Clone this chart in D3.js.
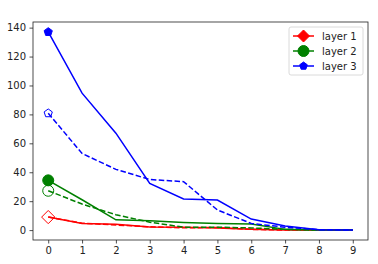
<!DOCTYPE html>
<html>
<head>
<meta charset="utf-8">
<script src="https://cdn.jsdelivr.net/npm/d3@7"></script>
<style>
  body { margin: 0; background: #fff; }
  svg { display: block; font-family: "DejaVu Sans", sans-serif; }
</style>
</head>
<body>
<script>
var width = 378,
  height = 264;

var margin = { top: 22, right: 10, bottom: 24, left: 33 };

// data
var xValues = [0, 1, 2, 3, 4, 5, 6, 7, 8, 9];
var layerNames = ["layer 1", "layer 2", "layer 3"];
var layerColors = ["#ff0000", "#008000", "#0000ff"];
var layer1Solid = [9, 4.6, 4, 2.2, 2, 1.5, 0.6, 0, 0, 0];
var layer1Dashed = [9, 4.8, 3.5, 2.3, 1.6, 1.8, 0.5, 0, 0, 0];
var layer2Solid = [34.4, 21, 7.1, 6.5, 5.3, 4.6, 4.2, 0.5, 0, 0];
var layer2Dashed = [27.2, 18, 10.6, 5.5, 2, 2, 1.5, 0.5, 0, 0];
var layer3Solid = [137, 94.7, 67, 32.3, 21.5, 20.8, 7.6, 2.8, 0.3, 0];
var layer3Dashed = [80.8, 53, 42, 35, 33.5, 13.9, 4.6, 2, 0.3, 0];
var yTicks = [0, 20, 40, 60, 80, 100, 120, 140];

var series = [
  { values: layer1Solid, color: layerColors[0], dashed: false, marker: "diamond" },
  { values: layer1Dashed, color: layerColors[0], dashed: true, marker: "diamond" },
  { values: layer2Solid, color: layerColors[1], dashed: false, marker: "circle" },
  { values: layer2Dashed, color: layerColors[1], dashed: true, marker: "circle" },
  { values: layer3Solid, color: layerColors[2], dashed: false, marker: "pentagon" },
  { values: layer3Dashed, color: layerColors[2], dashed: true, marker: "pentagon" }
];

var svg = d3.select("body")
  .append("svg")
  .attr("width", width)
  .attr("height", height);

var x = d3.scaleLinear()
  .domain([-0.45, 9.45])
  .range([margin.left, width - margin.right]);

var y = d3.scaleLinear()
  .domain([-6.85, 143.9])
  .range([height - margin.bottom, margin.top]);

// marker shapes
function markerPath(kind, r) {
  if (kind === "diamond") {
    return "M0," + -r + "L" + r + ",0L0," + r + "L" + -r + ",0Z";
  }
  if (kind === "circle") {
    return "M" + r + ",0A" + r + "," + r + " 0 1,1 " + -r + ",0A" + r + "," + r + " 0 1,1 " + r + ",0Z";
  }
  var pts = d3.range(5).map(function (i) {
    var a = -Math.PI / 2 + i * 2 * Math.PI / 5;
    return [r * Math.cos(a), r * Math.sin(a)];
  });
  return "M" + pts.map(function (p) { return p.join(","); }).join("L") + "Z";
}
var markerSize = { diamond: 6.6, circle: 5.5, pentagon: 4.3 };

var line = d3.line()
  .x(function (d, i) { return x(xValues[i]); })
  .y(function (d) { return y(d); });

var g = svg.append("g");

series.forEach(function (s) {
  g.append("path")
    .datum(s.values)
    .attr("fill", "none")
    .attr("stroke", s.color)
    .attr("stroke-width", 1.5)
    .attr("stroke-dasharray", s.dashed ? "5.5,2.4" : null)
    .attr("d", line);

  // only the first point carries a marker; red solid one is hidden in the picture
  if (s.marker === "diamond" && !s.dashed) return;
  g.append("path")
    .attr("transform", "translate(" + x(xValues[0]) + "," + y(s.values[0]) + ")")
    .attr("d", markerPath(s.marker, markerSize[s.marker]))
    .attr("fill", s.dashed ? "none" : s.color)
    .attr("stroke", s.color)
    .attr("stroke-width", 1);
});

// axes
var xAxis = svg.append("g")
  .attr("transform", "translate(0," + (height - margin.bottom) + ")")
  .call(d3.axisBottom(x).tickValues(xValues).tickSize(3.5).tickPadding(3.5));

var yAxis = svg.append("g")
  .attr("transform", "translate(" + margin.left + ",0)")
  .call(d3.axisLeft(y).tickValues(yTicks).tickSize(3.5).tickPadding(3.5));

[xAxis, yAxis].forEach(function (a) {
  a.select(".domain").remove();
  a.selectAll("text").attr("font-size", 10).attr("fill", "#222").attr("font-family", "DejaVu Sans");
  a.selectAll("line").attr("stroke", "#222").attr("stroke-width", 0.8);
});

svg.append("rect")
  .attr("x", margin.left)
  .attr("y", margin.top)
  .attr("width", width - margin.left - margin.right)
  .attr("height", height - margin.top - margin.bottom)
  .attr("fill", "none")
  .attr("stroke", "#222")
  .attr("stroke-width", 0.8);

// legend
var legend = svg.append("g").attr("transform", "translate(289,27)");
legend.append("rect")
  .attr("width", 74)
  .attr("height", 48)
  .attr("rx", 2)
  .attr("fill", "#fff")
  .attr("fill-opacity", 0.8)
  .attr("stroke", "#d0d0d0")
  .attr("stroke-width", 0.8);

var legendMarkers = ["diamond", "circle", "pentagon"];
var legendSize = { diamond: 6, circle: 5.5, pentagon: 4 };

layerNames.forEach(function (name, i) {
  var row = legend.append("g").attr("transform", "translate(0," + (9 + i * 15) + ")");
  row.append("line")
    .attr("x1", 4).attr("x2", 25)
    .attr("stroke", layerColors[i])
    .attr("stroke-width", 1.5);
  row.append("path")
    .attr("transform", "translate(14.5,0)")
    .attr("d", markerPath(legendMarkers[i], legendSize[legendMarkers[i]]))
    .attr("fill", layerColors[i])
    .attr("stroke", layerColors[i]);
  row.append("text")
    .attr("x", 33)
    .attr("dy", "0.35em")
    .attr("font-size", 10)
    .attr("fill", "#222")
    .text(name);
});
</script>
</body>
</html>
